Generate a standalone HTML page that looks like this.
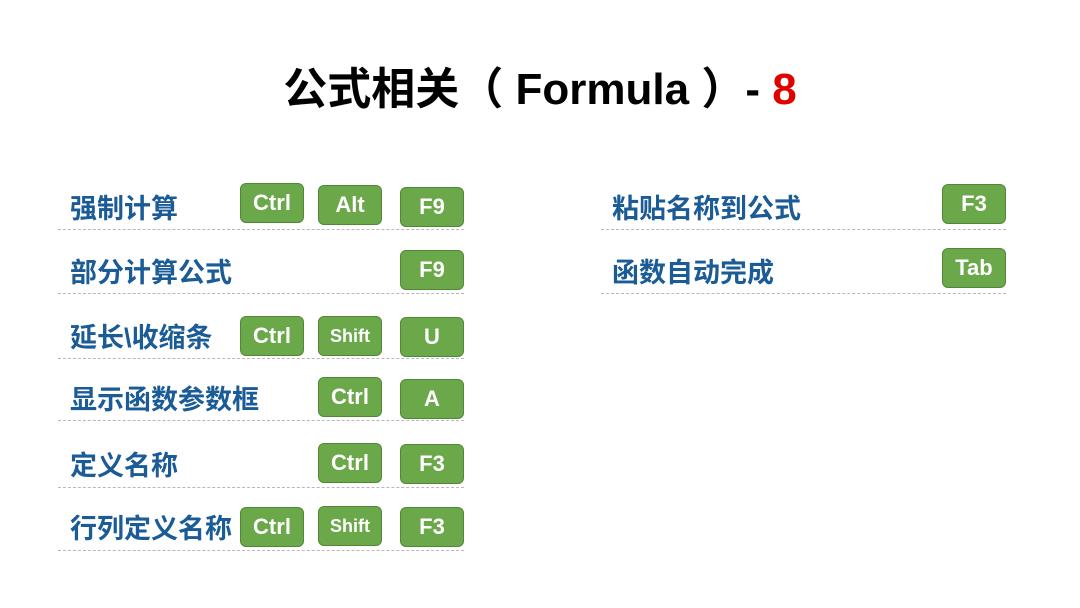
<!DOCTYPE html>
<html><head><meta charset="utf-8"><style>
body{margin:0;width:1080px;height:608px;background:#fff;position:relative;overflow:hidden;font-family:"Liberation Sans","Noto Sans CJK SC",sans-serif}
.t{position:absolute;left:0;width:1080px;top:62px;text-align:center;font-size:44px;font-weight:bold;color:#000;line-height:56px;letter-spacing:0px}
.l{position:absolute;font-size:27px;font-weight:bold;color:#1b5b96;line-height:36px;white-space:nowrap}
.d{position:absolute;height:0;border-top:1.5px dashed #b8b8b8}
.k{position:absolute;width:62px;height:38px;background:#6aa84a;border:1px solid #50883a;border-radius:6px;color:#fff;font-weight:bold;font-size:22px;line-height:38px;text-align:center}
.s{font-size:18px}
</style></head><body>
<div class="t">公式相关（ Formula ）- <span style="color:#e00000">8</span></div>

<div class="l" style="left:70px;top:191px">强制计算</div>
<div class="k" style="left:240px;top:183px">Ctrl</div>
<div class="k" style="left:318px;top:185px">Alt</div>
<div class="k" style="left:400px;top:187px">F9</div>
<div class="d" style="left:58px;width:406px;top:229px"></div>

<div class="l" style="left:70px;top:255px">部分计算公式</div>
<div class="k" style="left:400px;top:250px">F9</div>
<div class="d" style="left:58px;width:406px;top:293px"></div>

<div class="l" style="left:70px;top:320px">延长\收缩条</div>
<div class="k" style="left:240px;top:316px">Ctrl</div>
<div class="k s" style="left:318px;top:316px">Shift</div>
<div class="k" style="left:400px;top:317px">U</div>
<div class="d" style="left:58px;width:406px;top:358px"></div>

<div class="l" style="left:70px;top:382px">显示函数参数框</div>
<div class="k" style="left:318px;top:377px">Ctrl</div>
<div class="k" style="left:400px;top:379px">A</div>
<div class="d" style="left:58px;width:406px;top:420px"></div>

<div class="l" style="left:70px;top:448px">定义名称</div>
<div class="k" style="left:318px;top:443px">Ctrl</div>
<div class="k" style="left:400px;top:444px">F3</div>
<div class="d" style="left:58px;width:406px;top:487px"></div>

<div class="l" style="left:70px;top:511px">行列定义名称</div>
<div class="k" style="left:240px;top:507px">Ctrl</div>
<div class="k s" style="left:318px;top:506px">Shift</div>
<div class="k" style="left:400px;top:507px">F3</div>
<div class="d" style="left:58px;width:406px;top:550px"></div>

<div class="l" style="left:612px;top:191px">粘贴名称到公式</div>
<div class="k" style="left:942px;top:184px">F3</div>
<div class="d" style="left:601px;width:405px;top:229px"></div>

<div class="l" style="left:612px;top:255px">函数自动完成</div>
<div class="k" style="left:942px;top:248px">Tab</div>
<div class="d" style="left:601px;width:405px;top:293px"></div>
</body></html>
